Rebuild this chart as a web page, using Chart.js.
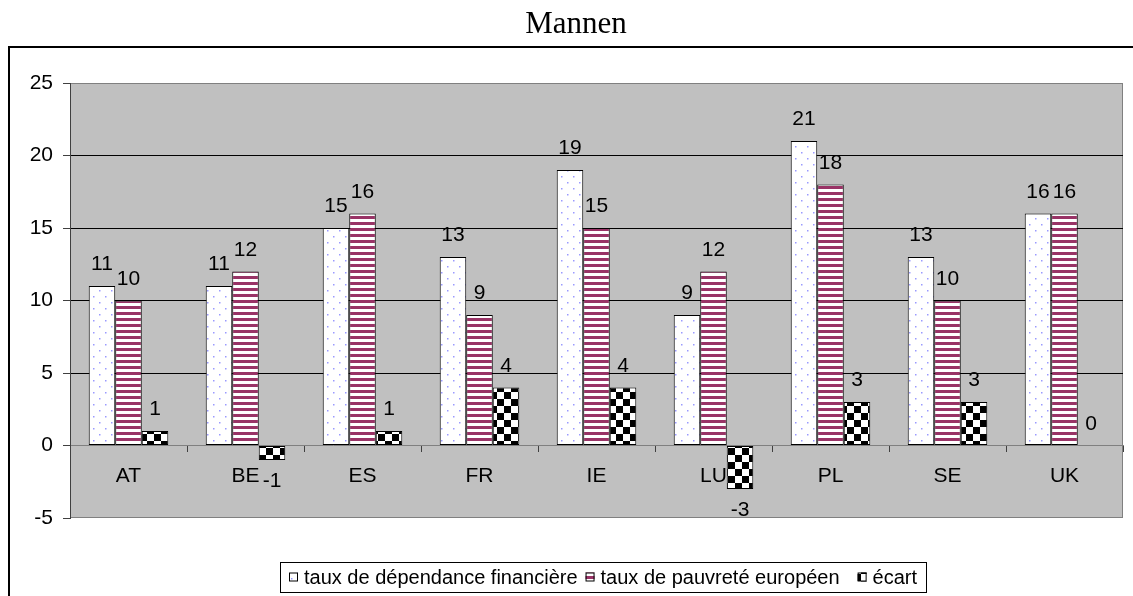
<!DOCTYPE html>
<html>
<head>
<meta charset="utf-8">
<script src="https://cdn.jsdelivr.net/npm/chart.js@4.4.0/dist/chart.umd.min.js"></script>
<style>
html, body { margin: 0; padding: 0; background: #fff; }
#wrap { width: 1133px; height: 596px; }
</style>
</head>
<body>
<div id="wrap"><canvas id="chart" width="1133" height="596"></canvas></div>
<script>
const categories = ['AT', 'BE', 'ES', 'FR', 'IE', 'LU', 'PL', 'SE', 'UK']
const dependance = [11, 11, 15, 13, 19, 9, 21, 13, 16]
const pauvrete = [10, 12, 16, 9, 15, 12, 18, 10, 16]
const ecart = [1, -1, 1, 4, 4, -3, 3, 3, 0]
const seriesLabels = ['taux de dépendance financière', 'taux de pauvreté européen', 'écart']
const chartTitle = 'Mannen'
const yMin = -5
const yMax = 25
const yStep = 5

const FONT = '"Liberation Sans", Arial, sans-serif'

// fill patterns like the old excel ones
function dotPattern(){
    const c = document.createElement('canvas')
    c.width = 12; c.height = 12
    const g = c.getContext('2d')
    g.fillStyle = '#fff'
    g.fillRect(0, 0, 12, 12)
    g.fillStyle = '#9a9aff'
    g.fillRect(3, 2, 1.5, 1.5)
    g.fillRect(9, 8, 1.5, 1.5)
    return g.createPattern(c, 'repeat')
}
function stripePattern(){
    const c = document.createElement('canvas')
    c.width = 6; c.height = 6
    const g = c.getContext('2d')
    g.fillStyle = '#fff'
    g.fillRect(0, 0, 6, 6)
    g.fillStyle = '#993366'
    g.fillRect(0, 0, 6, 3)
    return g.createPattern(c, 'repeat')
}
function checkerPattern(){
    const c = document.createElement('canvas')
    c.width = 14; c.height = 14
    const g = c.getContext('2d')
    g.fillStyle = '#fff'
    g.fillRect(0, 0, 14, 14)
    g.fillStyle = '#000'
    g.fillRect(0, 0, 7, 7)
    g.fillRect(7, 7, 7, 7)
    return g.createPattern(c, 'repeat')
}

const plotBackground = {
    id: 'plotBackground',
    beforeDraw(chart){
        const {ctx, chartArea: a} = chart
        ctx.save()
        ctx.fillStyle = '#c0c0c0'
        ctx.fillRect(a.left, a.top, a.right - a.left, a.bottom - a.top)
        ctx.strokeStyle = '#808080'
        ctx.lineWidth = 1
        ctx.strokeRect(a.left + 0.5, a.top + 0.5, a.right - a.left - 1, a.bottom - a.top - 1)
        ctx.restore()
    }
}

const valueLabels = {
    id: 'valueLabels',
    afterDatasetsDraw(chart){
        const ctx = chart.ctx
        ctx.save()
        ctx.font = '21px ' + FONT
        ctx.fillStyle = '#000'
        ctx.textAlign = 'center'
        chart.data.datasets.forEach((ds, di) => {
            const meta = chart.getDatasetMeta(di)
            meta.data.forEach((bar, i) => {
                const v = ds.data[i]
                const p = bar.getProps(['x', 'y'], true)
                if(v < 0){
                    ctx.textBaseline = 'top'
                    ctx.fillText(String(v), p.x, p.y + 11)
                } else {
                    ctx.textBaseline = 'alphabetic'
                    ctx.fillText(String(v), p.x, p.y - 16)
                }
            })
        })
        ctx.restore()
    }
}

const titleText = {
    id: 'titleText',
    afterDraw(chart){
        const ctx = chart.ctx
        ctx.save()
        ctx.font = '31px "Liberation Serif", "Times New Roman", serif'
        ctx.fillStyle = '#000'
        ctx.textAlign = 'center'
        ctx.textBaseline = 'alphabetic'
        ctx.fillText(chartTitle, 576, 33)
        ctx.restore()
    }
}

const boxLegend = {
    id: 'boxLegend',
    afterDraw(chart){
        const ctx = chart.ctx
        ctx.save()
        ctx.font = '20px ' + FONT
        const sw = 9, gapText = 6, padX = 9
        const gaps = [8, 18]
        const items = chart.data.datasets.map(ds => ({
            label: ds.label, fill: ds.backgroundColor, w: ctx.measureText(ds.label).width
        }))
        let total = padX * 2
        items.forEach((it, i) => { total += sw + gapText + it.w + (i < items.length - 1 ? gaps[i] : 0) })
        const left = 280, cy = 577, h = 30
        let x = left
        ctx.fillStyle = '#fff'
        ctx.fillRect(x, cy - h / 2, total, h)
        ctx.strokeStyle = '#000'
        ctx.lineWidth = 1
        ctx.strokeRect(x + 0.5, Math.round(cy - h / 2) + 0.5, Math.round(total), h)
        x += padX
        ctx.textBaseline = 'middle'
        ctx.textAlign = 'left'
        items.forEach((it, i) => {
            ctx.fillStyle = it.fill
            ctx.fillRect(x, cy - sw / 2, sw, sw)
            ctx.strokeStyle = '#000'
            ctx.strokeRect(x + 0.5, cy - sw / 2 + 0.5, sw - 1, sw - 1)
            x += sw + gapText
            ctx.fillStyle = '#000'
            ctx.fillText(it.label, x, cy + 1)
            x += it.w + (gaps[i] || 0)
        })
        ctx.restore()
    }
}

const outerFrame = {
    id: 'outerFrame',
    afterDraw(chart){
        const ctx = chart.ctx
        ctx.save()
        ctx.strokeStyle = '#000'
        ctx.lineWidth = 2
        ctx.strokeRect(9, 47, 1140, 600)
        ctx.restore()
    }
}

const data = {
    labels: categories,
    datasets: [
        {
            label: seriesLabels[0],
            data: dependance,
            backgroundColor: dotPattern(),
            borderColor: '#000',
            borderWidth: 1,
            borderSkipped: false,
        },
        {
            label: seriesLabels[1],
            data: pauvrete,
            backgroundColor: stripePattern(),
            borderColor: '#000',
            borderWidth: 1,
            borderSkipped: false,
        },
        {
            label: seriesLabels[2],
            data: ecart,
            backgroundColor: checkerPattern(),
            borderColor: '#000',
            borderWidth: 1,
            borderSkipped: false,
        }
    ]
}

const config = {
    type: 'bar',
    data: data,
    options: {
        responsive: false,
        animation: false,
        devicePixelRatio: 1,
        categoryPercentage: 0.68,
        barPercentage: 1.0,
        layout: {
            padding: {left: 0, top: 83, right: 10, bottom: 78}
        },
        plugins: {
            legend: {display: false},
            tooltip: {enabled: false},
            title: {display: false}
        },
        scales: {
            x: {
                position: {y: 0},
                offset: true,
                grid: {
                    display: true,
                    drawOnChartArea: false,
                    drawTicks: true,
                    tickLength: 6,
                    offset: true,
                    color: '#404040',
                },
                border: {display: true, color: '#808080', width: 1},
                ticks: {
                    color: '#000',
                    padding: 12,
                    font: {family: FONT, size: 21},
                    maxRotation: 0,
                    autoSkip: false,
                }
            },
            y: {
                min: yMin,
                max: yMax,
                afterFit(scale){ scale.width = 70 },
                grid: {
                    color: ctx => (ctx.tick && ctx.tick.value > yMin && ctx.tick.value < yMax && ctx.tick.value !== 0) ? '#000' : 'rgba(0,0,0,0)',
                    tickColor: '#404040',
                    tickLength: 7,
                    lineWidth: 1,
                },
                border: {display: true, color: '#404040', width: 1},
                ticks: {
                    stepSize: yStep,
                    color: '#000',
                    padding: 10,
                    font: {family: FONT, size: 21},
                }
            }
        }
    },
    plugins: [plotBackground, valueLabels, titleText, boxLegend, outerFrame]
}

const chart = new Chart(document.getElementById('chart').getContext('2d'), config)
</script>
</body>
</html>
